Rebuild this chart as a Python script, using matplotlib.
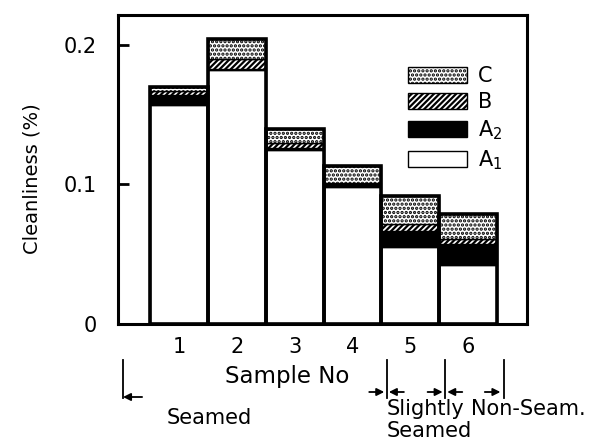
import matplotlib
matplotlib.use("Agg")
import matplotlib.pyplot as plt
from matplotlib.transforms import blended_transform_factory

# values (cleanliness, %)
samples = [1, 2, 3, 4, 5, 6]
a1 = [0.157, 0.182, 0.125, 0.098, 0.055, 0.042]
a2 = [0.007, 0.001, 0.001, 0.002, 0.012, 0.015]
b = [0.003, 0.007, 0.004, 0.001, 0.005, 0.004]
c = [0.003, 0.014, 0.010, 0.012, 0.020, 0.018]

# sample groups along the x axis
group_names = ["Seamed", "Slightly\nSeamed", "Non-Seam."]
group_edges = [0.03, 4.59, 5.6, 6.62]

plt.rcParams["font.family"] = ["DejaVu Sans"]
plt.rcParams["font.size"] = 15
plt.rcParams["hatch.linewidth"] = 1.6

fig = plt.figure(figsize=(5.9, 4.45), dpi=100)
ax = fig.add_axes([118 / 590, 1 - 324 / 445, 409 / 590, 309 / 445])

bottom = [0.0] * len(samples)
layers = [
    (a1, "white", "", r"A$_1$"),
    (a2, "black", "", r"A$_2$"),
    (b, "white", "//////", "B"),
    (c, "white", "....", "C"),
]
handles = []
for vals, fc, hatch, lab in layers:
    h = ax.bar(samples, vals, width=1.0, bottom=bottom, color=fc,
               edgecolor="black", linewidth=1.0, hatch=hatch, label=lab)
    handles.append(h)
    bottom = [x + y for x, y in zip(bottom, vals)]

# heavy outline round each whole bar
ax.bar(samples, bottom, width=1.0, fill=False, edgecolor="black", linewidth=2.6)

ax.set_xlim(-0.057, 7.02)
ax.set_ylim(0, 0.2215)
ax.set_yticks([0, 0.1, 0.2])
ax.set_yticklabels(["0", "0.1", "0.2"])
ax.set_xticks(samples)
ax.tick_params(axis="y", direction="in", length=8, width=2, pad=15)
ax.tick_params(axis="x", length=0, pad=9.5)
for s in ax.spines.values():
    s.set_linewidth(2.2)

ax.set_xlabel("Sample No", fontsize=16.5)
ax.xaxis.set_label_coords(0.413, -0.133)
ax.set_ylabel("Cleanliness (%)", fontsize=14)
ax.yaxis.set_label_coords(-0.186, 0.47)

leg = ax.legend(handles[::-1], [l[3] for l in layers[::-1]],
                loc="upper left", bbox_to_anchor=(408 / 590, 1 - 66 / 445),
                bbox_transform=fig.transFigure, frameon=False,
                borderpad=0, borderaxespad=0, handlelength=2.85,
                handleheight=0.8, labelspacing=0.3, handletextpad=0.5)

# group brackets under the axis
tr = blended_transform_factory(ax.transData, fig.transFigure)
def fy(px):
    return 1 - px / 445

for x in group_edges:
    ax.plot([x, x], [fy(360), fy(398)], transform=tr, color="black",
            lw=1.3, clip_on=False)

aprops = dict(arrowstyle="-|>", color="black", lw=1.3,
              mutation_scale=11, shrinkA=0, shrinkB=0)
ay = fy(392)
ax.annotate("", xy=(group_edges[0], fy(397)), xytext=(group_edges[0] + 0.33, fy(397)),
            xycoords=tr, textcoords=tr, arrowprops=aprops)
for i in (1, 2):
    xe = group_edges[i]
    ax.annotate("", xy=(xe - 0.04, ay), xytext=(xe - 0.3, ay),
                xycoords=tr, textcoords=tr, arrowprops=aprops)
    ax.annotate("", xy=(xe + 0.04, ay), xytext=(xe + 0.3, ay),
                xycoords=tr, textcoords=tr, arrowprops=aprops)
ax.annotate("", xy=(group_edges[3] - 0.06, ay), xytext=(group_edges[3] - 0.33, ay),
            xycoords=tr, textcoords=tr, arrowprops=aprops)

ax.text(1.53, fy(418), group_names[0], transform=tr, ha="center", va="center")
ax.text(group_edges[1], fy(399), group_names[1], transform=tr, ha="left",
        va="top", linespacing=1.1)
ax.text(6.05, fy(399), group_names[2], transform=tr, ha="left", va="top")

fig.savefig("out.png", dpi=100)
